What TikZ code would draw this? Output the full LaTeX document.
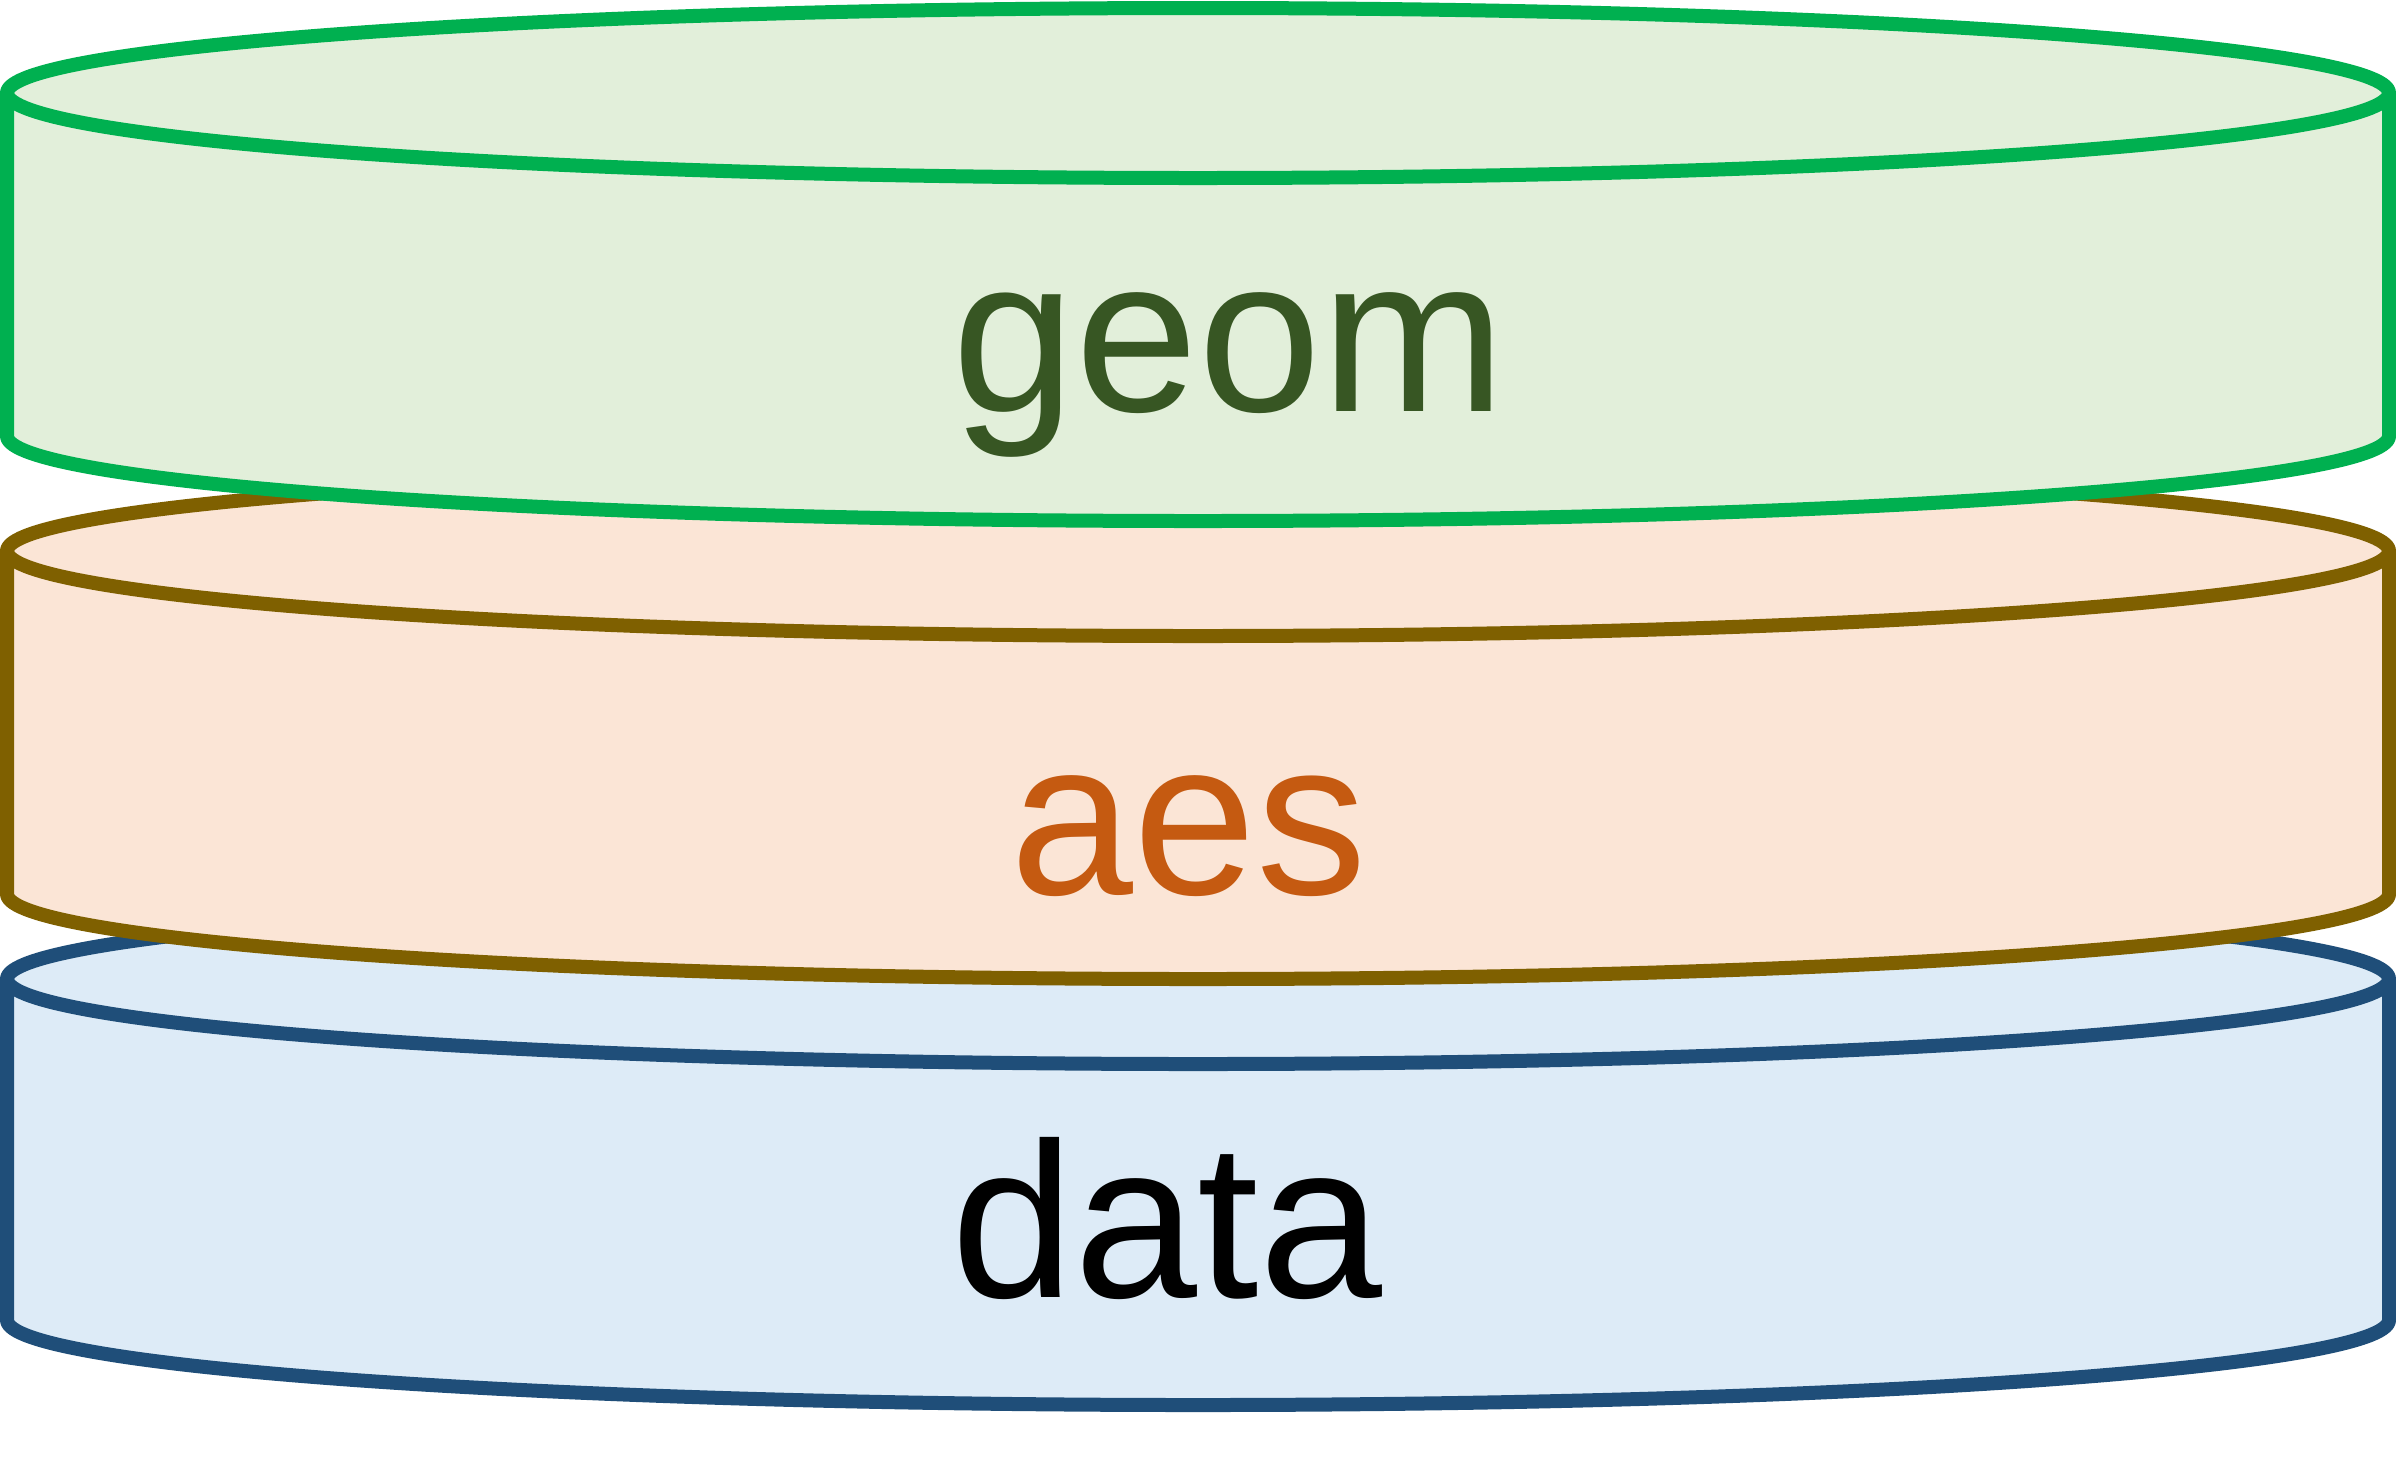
\documentclass[tikz,border=0pt]{standalone}
\usepackage{fontspec}
\setmainfont{Liberation Sans}
\definecolor{geomfill}{HTML}{E2EFDA}
\definecolor{geomline}{HTML}{00B050}
\definecolor{geomtext}{HTML}{375623}
\definecolor{aesfill}{HTML}{FBE5D6}
\definecolor{aesline}{HTML}{7F6000}
\definecolor{aestext}{HTML}{C55A11}
\definecolor{datafill}{HTML}{DDEBF7}
\definecolor{dataline}{HTML}{1F4E79}
\tikzset{
  cyl/.style={line width=3.5pt, line join=round},
  lbl/.style={anchor=base west, inner sep=0pt, font=\fontsize{55.25}{60}\selectfont}
}
% #1 top y, #2 bottom y (pixel units, y down), #3 fill, #4 line
\newcommand{\mycyl}[4]{%
  \draw[cyl, fill=#3, draw=#4] (7,-#1) -- (7,-#2)
    arc[start angle=180, end angle=360, x radius=297.75pt, y radius=21.25pt]
    -- (2389,-#1)
    arc[start angle=0, end angle=180, x radius=297.75pt, y radius=21.25pt] -- cycle;
  \draw[cyl, draw=#4] (7,-#1)
    arc[start angle=180, end angle=360, x radius=297.75pt, y radius=21.25pt];
}
\begin{document}
\begin{tikzpicture}[x=0.25pt, y=0.25pt]
\useasboundingbox (0,0) rectangle (2396,-1480);
\mycyl{979}{1320}{datafill}{dataline}
\node[lbl, text=black] (data) at (951,-1297) {data};
\mycyl{551}{894}{aesfill}{aesline}
\node[lbl, text=aestext] (aes) at (1010,-894) {aes};
\mycyl{93}{436}{geomfill}{geomline}
\node[lbl, text=geomtext] (geom) at (952,-411) {geom};
\end{tikzpicture}
\end{document}
